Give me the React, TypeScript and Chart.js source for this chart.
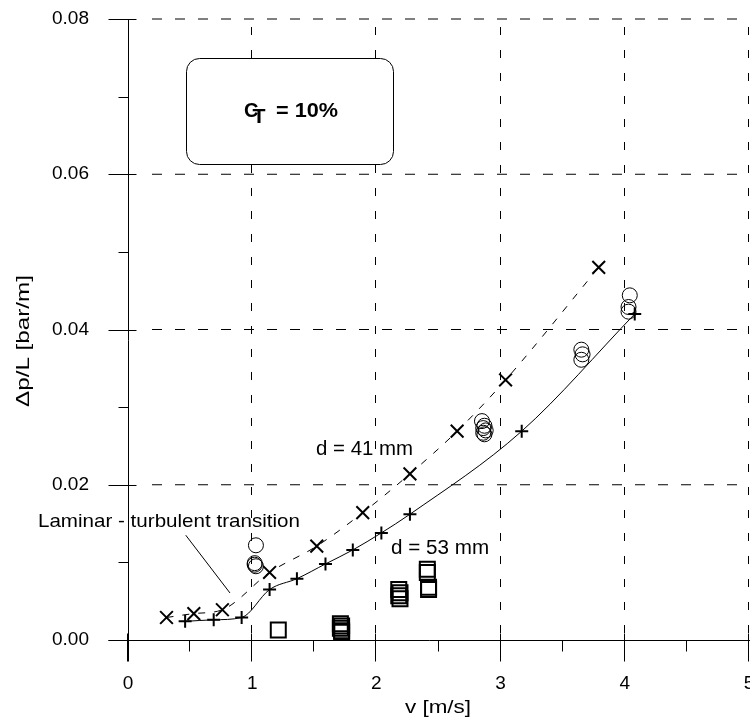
import React, { useEffect, useRef } from "react";
import { Chart, registerables } from "chart.js";

Chart.register(...registerables);

// d = 53 mm (plus markers, solid line)
const d53V = [0.46, 0.69, 0.915, 1.14, 1.36, 1.59, 1.81, 2.04, 2.27, 3.17, 4.08];
const d53P = [0.0024, 0.0026, 0.0029, 0.0065, 0.0079, 0.0098, 0.0116, 0.0138, 0.0162, 0.0269, 0.042];

// d = 41 mm (x markers, dashed line)
const d41V = [0.31, 0.53, 0.76, 1.14, 1.52, 1.89, 2.27, 2.65, 3.04, 3.79];
const d41P = [0.0029, 0.0034, 0.0039, 0.0087, 0.0121, 0.0164, 0.0214, 0.0269, 0.0335, 0.048];

// circle measurements
const circV = [1.03, 1.02, 1.02, 1.03, 2.85, 2.87, 2.86, 2.88, 2.86, 2.87, 3.65, 3.66, 3.65, 4.04, 4.03, 4.03];
const circP = [0.0122, 0.0099, 0.0097, 0.0095, 0.0282, 0.0276, 0.0273, 0.027, 0.0267, 0.0265, 0.0374, 0.0368, 0.0361, 0.0444, 0.0429, 0.0423];

// square measurements
const sqV = [1.21, 1.71, 1.72, 1.71, 1.72, 1.72, 2.18, 2.19, 2.18, 2.19, 2.41, 2.41, 2.42, 2.42];
const sqP = [0.0013, 0.0021, 0.0018, 0.0015, 0.0012, 0.001, 0.0065, 0.0061, 0.0057, 0.0053, 0.0091, 0.0087, 0.0068, 0.0065];

// ticks
const xMajor = [0, 1, 2, 3, 4, 5];
const xMinor = [0.5, 1.5, 2.5, 3.5, 4.5];
const yMajor = [0, 0.02, 0.04, 0.06, 0.08];
const yMinor = [0.01, 0.03, 0.05, 0.07];

const xTitle = "v [m/s]";
const yTitle = "\u0394p/L [bar/m]";
const transitionLabel = "Laminar - turbulent transition";
const label41 = "d = 41 mm";
const label53 = "d = 53 mm";

const FONT = '"Liberation Sans", Arial, sans-serif';

function stretchText(ctx: CanvasRenderingContext2D, text: string, x: number, y: number, font: string, width: number) {
  ctx.save();
  ctx.font = font;
  ctx.textAlign = "left";
  ctx.textBaseline = "alphabetic";
  const w = ctx.measureText(text).width;
  ctx.translate(x, y);
  ctx.scale(width / w, 1);
  ctx.fillStyle = "#000";
  ctx.fillText(text, 0, 0);
  ctx.restore();
}

export default function App() {
  const ref = useRef<HTMLCanvasElement>(null);

  useEffect(() => {
    const canvas = ref.current!;
    const pts = (xs: number[], ys: number[]) => xs.map((x, i) => ({ x, y: ys[i] }));

    const overlay = {
      id: "overlay",
      beforeDatasetsDraw(chart: any) {
        const ctx: CanvasRenderingContext2D = chart.ctx;
        const xs = chart.scales.x;
        const ys = chart.scales.y;
        const { left, right, top, bottom } = chart.chartArea;
        ctx.save();
        ctx.strokeStyle = "#000";
        ctx.lineWidth = 1;
        // vertical dashed grid
        ctx.setLineDash([8, 15]);
        ctx.lineDashOffset = 15;
        xMajor.slice(1).forEach((v) => {
          const px = Math.round(xs.getPixelForValue(v)) - 0.5;
          ctx.beginPath();
          ctx.moveTo(px, top);
          ctx.lineTo(px, bottom);
          ctx.stroke();
        });
        // horizontal dashed grid
        ctx.setLineDash([10, 13]);
        ctx.lineDashOffset = 10;
        yMajor.slice(1).forEach((v) => {
          const py = ys.getPixelForValue(v);
          ctx.beginPath();
          ctx.moveTo(left + 11, py);
          ctx.lineTo(right + 2, py);
          ctx.stroke();
        });
        ctx.setLineDash([]);
        // axes
        const by = Math.round(bottom) + 0.5;
        const lx = Math.round(left) + 0.5;
        ctx.beginPath();
        ctx.moveTo(lx - 20, by);
        ctx.lineTo(right + 2, by);
        ctx.moveTo(lx, top);
        ctx.lineTo(lx, by + 21);
        ctx.stroke();
        // x ticks
        xMajor.forEach((v) => {
          const px = Math.round(xs.getPixelForValue(v)) - 0.5;
          ctx.beginPath();
          ctx.moveTo(px, by - 7);
          ctx.lineTo(px, by + 21);
          ctx.stroke();
        });
        xMinor.forEach((v) => {
          const px = Math.round(xs.getPixelForValue(v)) - 0.5;
          ctx.beginPath();
          ctx.moveTo(px, by);
          ctx.lineTo(px, by + 11);
          ctx.stroke();
        });
        // y ticks
        yMajor.forEach((v) => {
          const py = Math.round(ys.getPixelForValue(v)) + 0.5;
          ctx.beginPath();
          ctx.moveTo(lx - 20, py);
          ctx.lineTo(lx + 8, py);
          ctx.stroke();
        });
        yMinor.forEach((v) => {
          const py = Math.round(ys.getPixelForValue(v)) + 0.5;
          ctx.beginPath();
          ctx.moveTo(lx - 10, py);
          ctx.lineTo(lx, py);
          ctx.stroke();
        });
        ctx.restore();
      },
      afterDatasetsDraw(chart: any) {
        const ctx: CanvasRenderingContext2D = chart.ctx;
        const xs = chart.scales.x;
        const ys = chart.scales.y;
        const X = (v: number) => xs.getPixelForValue(v);
        const Y = (v: number) => ys.getPixelForValue(v);
        ctx.save();
        // C_T box
        const bx0 = Math.round(X(0.467)) + 0.5;
        const bx1 = Math.round(X(2.134)) + 0.5;
        const by0 = Math.round(Y(0.075)) + 0.5;
        const by1 = Math.round(Y(0.0613)) + 0.5;
        ctx.beginPath();
        ctx.roundRect(bx0, by0, bx1 - bx0, by1 - by0, 13);
        ctx.fillStyle = "#fff";
        ctx.fill();
        ctx.strokeStyle = "#000";
        ctx.lineWidth = 1;
        ctx.stroke();
        const cx = X(0.934);
        const cy = Y(0.06737);
        stretchText(ctx, "C", cx, cy, `bold 20px ${FONT}`, 14.5);
        stretchText(ctx, "T", cx + 8.5, cy + 5.5, `bold 21px ${FONT}`, 13);
        stretchText(ctx, "= 10%", cx + 32, cy, `bold 20px ${FONT}`, 62);
        // pointer line
        ctx.beginPath();
        ctx.moveTo(X(0.465), Y(0.0135));
        ctx.lineTo(X(0.821), Y(0.00606));
        ctx.strokeStyle = "#000";
        ctx.lineWidth = 1;
        ctx.stroke();
        // labels
        stretchText(ctx, transitionLabel, X(-0.725), Y(0.01456), `19px ${FONT}`, 262);
        stretchText(ctx, label41, X(1.514), Y(0.02383), `20px ${FONT}`, 97);
        stretchText(ctx, label53, X(2.118), Y(0.01108), `20px ${FONT}`, 98);
        // axis titles
        stretchText(ctx, xTitle, 405, 713, `19px ${FONT}`, 66);
        ctx.save();
        ctx.translate(29, 407);
        ctx.rotate(-Math.PI / 2);
        stretchText(ctx, yTitle, 0, 0, `19px ${FONT}`, 132);
        ctx.restore();
        ctx.restore();
      },
    };

    const chart = new Chart(canvas, {
      type: "scatter",
      data: {
        datasets: [
          {
            label: label53,
            data: pts(d53V, d53P),
            showLine: true,
            borderColor: "#000",
            borderWidth: 1,
            cubicInterpolationMode: "monotone",
            pointStyle: "cross",
            pointRadius: 6.5,
            pointBorderWidth: 2,
            pointBorderColor: "#000",
            pointBackgroundColor: "transparent",
          },
          {
            label: label41,
            data: pts(d41V, d41P),
            showLine: true,
            borderColor: "#000",
            borderWidth: 1,
            borderDash: [7, 9],
            cubicInterpolationMode: "monotone",
            pointStyle: "crossRot",
            pointRadius: 9,
            pointBorderWidth: 2,
            pointBorderColor: "#000",
            pointBackgroundColor: "transparent",
          },
          {
            label: "circles",
            data: pts(circV, circP),
            showLine: false,
            pointStyle: "circle",
            pointRadius: 7.5,
            pointBorderWidth: 1,
            pointBorderColor: "#000",
            pointBackgroundColor: "transparent",
          },
          {
            label: "squares",
            data: pts(sqV, sqP),
            showLine: false,
            pointStyle: "rect",
            pointRadius: 10.6,
            pointBorderWidth: 2,
            pointBorderColor: "#000",
            pointBackgroundColor: "transparent",
          },
        ],
      },
      options: {
        animation: false,
        responsive: false,
        events: [],
        layout: { autoPadding: false, padding: { top: 19, right: 1, left: 0, bottom: 0 } },
        plugins: { legend: { display: false }, tooltip: { enabled: false } },
        scales: {
          x: {
            type: "linear",
            min: 0,
            max: 5,
            afterBuildTicks: (s: any) => {
              s.ticks = xMajor.map((v) => ({ value: v }));
            },
            ticks: {
              font: { family: FONT, size: 19 },
              color: "#000",
              padding: 24,
              maxRotation: 0,
              autoSkip: false,
              callback: (v: any) => String(v),
            },
            grid: { display: false },
            border: { display: false },
            afterFit: (s: any) => {
              s.height = 80;
              s.paddingLeft = 0;
              s.paddingRight = 0;
            },
          },
          y: {
            type: "linear",
            min: 0,
            max: 0.08,
            afterBuildTicks: (s: any) => {
              s.ticks = yMajor.map((v) => ({ value: v }));
            },
            ticks: {
              font: { family: FONT, size: 19 },
              color: "#000",
              padding: 31,
              autoSkip: false,
              callback: (v: any) => Number(v).toFixed(2),
            },
            grid: { display: false },
            border: { display: false },
            afterFit: (s: any) => {
              s.width = 128;
              s.paddingTop = 0;
              s.paddingBottom = 0;
            },
          },
        },
      },
      plugins: [overlay],
    } as any);

    return () => chart.destroy();
  }, []);

  return (
    <div style={{ position: "absolute", left: 0, top: 0, width: 750, height: 720, background: "#fff" }}>
      <canvas ref={ref} width={750} height={720} style={{ display: "block" }} />
    </div>
  );
}
